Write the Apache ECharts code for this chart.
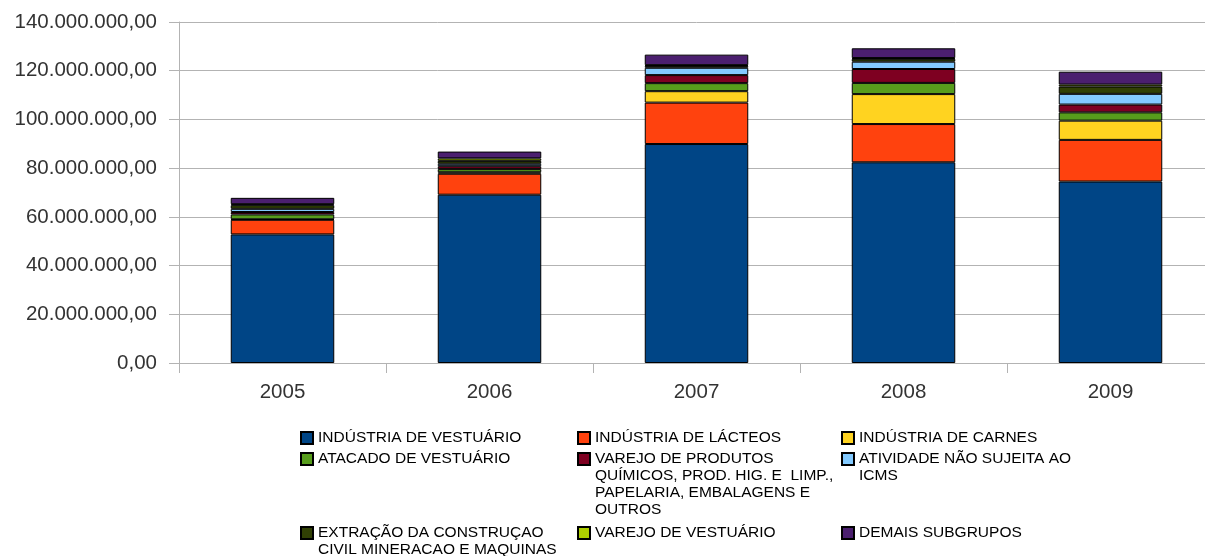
<!DOCTYPE html>
<html>
<head>
<meta charset="utf-8">
<script src="https://cdn.jsdelivr.net/npm/echarts@6/dist/echarts.min.js"></script>
<style>
  html, body { margin: 0; padding: 0; background: #fff; overflow: hidden; }
  #chart { width: 1220px; height: 556px; }
</style>
</head>
<body>
<div id="chart"></div>
<script>
// anos
const categories = ["2005", "2006", "2007", "2008", "2009"];

// valores em milhões
const industriaVestuario = [52.8, 69.1, 89.9, 82.4, 74.5];
const industriaLacteos   = [6.0, 8.6, 17.0, 15.7, 17.1];
const industriaCarnes    = [0.2, 0.6, 4.7, 12.3, 7.9];
const atacadoVestuario   = [2.0, 1.3, 3.3, 4.6, 3.4];
const varejoQuimicos     = [1.0, 1.2, 3.3, 5.7, 3.2];
const atividadeNaoIcms   = [1.3, 1.0, 3.0, 3.0, 4.4];
const extracaoConstrucao = [1.5, 1.2, 0.8, 1.2, 3.0];
const varejoVestuario    = [0.4, 1.0, 0.3, 0.3, 0.8];
const demaisSubgrupos    = [2.6, 2.8, 4.3, 4.0, 5.3];

const seriesNames = [
  "INDÚSTRIA DE VESTUÁRIO",
  "INDÚSTRIA DE LÁCTEOS",
  "INDÚSTRIA DE CARNES",
  "ATACADO DE VESTUÁRIO",
  "VAREJO DE PRODUTOS\nQUÍMICOS, PROD. HIG. E  LIMP.,\nPAPELARIA, EMBALAGENS E\nOUTROS",
  "ATIVIDADE NÃO SUJEITA AO\nICMS",
  "EXTRAÇÃO DA CONSTRUÇAO\nCIVIL MINERACAO E MAQUINAS",
  "VAREJO DE VESTUÁRIO",
  "DEMAIS SUBGRUPOS",
];
const seriesData = [
  industriaVestuario, industriaLacteos, industriaCarnes, atacadoVestuario,
  varejoQuimicos, atividadeNaoIcms, extracaoConstrucao, varejoVestuario, demaisSubgrupos,
];
const colors = ["#004586", "#ff420e", "#ffd320", "#579d1c", "#7e0021",
                "#83caff", "#314004", "#aecf00", "#4b1f6f"];

const M = 1000000;

const fmtBR = (v) => {
  const s = Math.round(v).toString().replace(/\B(?=(\d{3})+(?!\d))/g, ".");
  return s + ",00";
};

// posição das entradas da legenda (3 colunas)
const legendCols = [300, 577, 841];
const legendRows = [438, 459, 533];
const lineH = 17;

const legends = seriesNames.map((name, i) => {
  const n = name.split("\n").length;
  const lines = 2 * n - 1;
  return {
    data: [name],
    left: legendCols[i % 3],
    top: legendRows[Math.floor(i / 3)] - (lines * lineH) / 2,
    padding: 0,
    itemWidth: 12,
    itemHeight: 12,
    itemGap: 5,
    icon: "rect",
    selectedMode: false,
    formatter: (nm) => "\n".repeat(n - 1) + nm,
    textStyle: {
      fontFamily: "Liberation Sans",
      fontSize: 15.5,
      lineHeight: lineH,
      color: "#000",
    },
  };
});

const chart = echarts.init(document.getElementById("chart"));
chart.setOption({
  animation: false,
  color: colors,
  grid: { left: 179, width: 1035, top: 22, bottom: 193, containLabel: false },
  legend: legends,
  xAxis: {
    type: "category",
    data: categories,
    boundaryGap: true,
    axisLine: { lineStyle: { color: "#b3b3b3", width: 1 } },
    axisTick: { show: true, length: 10, lineStyle: { color: "#b3b3b3" } },
    axisLabel: {
      margin: 19,
      fontFamily: "Liberation Sans",
      fontSize: 20.5,
      color: "#333",
    },
  },
  yAxis: {
    type: "value",
    min: 0,
    max: 140 * M,
    interval: 20 * M,
    axisLine: { show: true, lineStyle: { color: "#b3b3b3", width: 1 } },
    axisTick: { show: true, length: 10, lineStyle: { color: "#b3b3b3" } },
    splitLine: { lineStyle: { color: "#b3b3b3", width: 1 } },
    axisLabel: {
      margin: 22,
      fontFamily: "Liberation Sans",
      fontSize: 20.5,
      color: "#333",
      formatter: (v) => fmtBR(v),
    },
  },
  series: seriesNames.map((name, i) => ({
    name,
    type: "bar",
    stack: "total",
    barWidth: "50%",
    data: seriesData[i].map((v) => v * M),
    itemStyle: { color: colors[i], borderColor: "#000", borderWidth: 1 },
  })),
});
</script>
</body>
</html>
